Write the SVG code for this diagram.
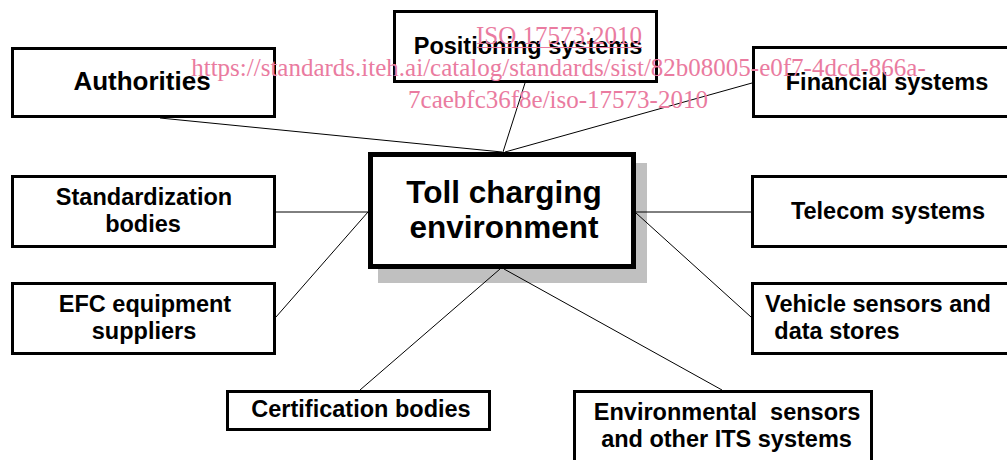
<svg xmlns="http://www.w3.org/2000/svg" width="1007" height="460" viewBox="0 0 1007 460">
<style>
.box{fill:#fff;stroke:#000;stroke-width:3}
.lbl{font-family:"Liberation Sans",Arial,sans-serif;font-weight:bold;font-size:23.5px;fill:#000;text-anchor:middle;white-space:pre}
.conn line{stroke:#000;stroke-width:1}
.wm{font-family:"Liberation Serif","Times New Roman",serif;font-size:25px;fill:#ea7ba0;text-anchor:middle}
</style>
<rect width="1007" height="460" fill="#fff"/>
<g id="authorities"><rect class="box" x="12.5" y="48.5" width="262" height="68"/><text class="lbl" x="142" y="90" style="font-size:26px">Authorities</text></g>
<g id="positioning"><rect class="box" x="394.5" y="11.5" width="262" height="70"/><text class="lbl" x="528" y="54">Positioning systems</text></g>
<g id="financial"><rect class="box" x="753.5" y="47.5" width="262" height="69"/><text class="lbl" x="887" y="90">Financial systems</text></g>
<g id="standardization"><rect class="box" x="12.5" y="176.5" width="262" height="70"/><text class="lbl" x="144" y="205">Standardization</text><text class="lbl" x="143" y="232">bodies</text></g>
<g id="efc"><rect class="box" x="12.5" y="283.5" width="262" height="70"/><text class="lbl" x="145" y="312">EFC equipment</text><text class="lbl" x="144" y="338.5">suppliers</text></g>
<g id="telecom"><rect class="box" x="752.5" y="176.5" width="262" height="70"/><text class="lbl" x="888" y="219">Telecom systems</text></g>
<g id="vehicle"><rect class="box" x="752.5" y="283.5" width="262" height="70"/><text class="lbl" x="878" y="312">Vehicle sensors and</text><text class="lbl" x="837" y="339">data stores</text></g>
<g id="certification"><rect class="box" x="227.5" y="391.5" width="262" height="38"/><text class="lbl" x="361" y="417">Certification bodies</text></g>
<g id="environmental"><rect class="box" x="574.5" y="391.5" width="297" height="80"/><text class="lbl" x="727" y="420">Environmental  sensors</text><text class="lbl" x="726.5" y="447">and other ITS systems</text></g>
<g id="toll">
<rect x="378" y="163" width="269" height="120" fill="#c0c0c0"/>
<rect x="370.5" y="154.5" width="263" height="112" fill="#fff" stroke="#000" stroke-width="5"/>
<text class="lbl" x="504" y="203" style="font-size:31.5px">Toll charging</text>
<text class="lbl" x="504" y="238" style="font-size:31.5px">environment</text>
</g>
<g id="connectors" class="conn">
<line x1="160" y1="118" x2="502" y2="152"/>
<line x1="525" y1="83" x2="503" y2="152"/>
<line x1="752" y1="83" x2="505" y2="152"/>
<line x1="276" y1="212" x2="368" y2="212"/>
<line x1="276" y1="317" x2="368" y2="212"/>
<line x1="636" y1="212" x2="751" y2="212"/>
<line x1="636" y1="213" x2="751" y2="317"/>
<line x1="360" y1="390" x2="500" y2="269"/>
<line x1="722" y1="390" x2="504" y2="269"/>
</g>
<g id="watermark">
<text class="wm" x="559" y="44">ISO 17573:2010</text>
<line x1="477" y1="47.5" x2="642" y2="47.5" stroke="#ea7ba0" stroke-width="1"/>
<text class="wm" x="558.5" y="76">https://standards.iteh.ai/catalog/standards/sist/82b08005-e0f7-4dcd-866a-</text>
<text class="wm" x="558" y="108">7caebfc36f8e/iso-17573-2010</text>
</g>
</svg>
